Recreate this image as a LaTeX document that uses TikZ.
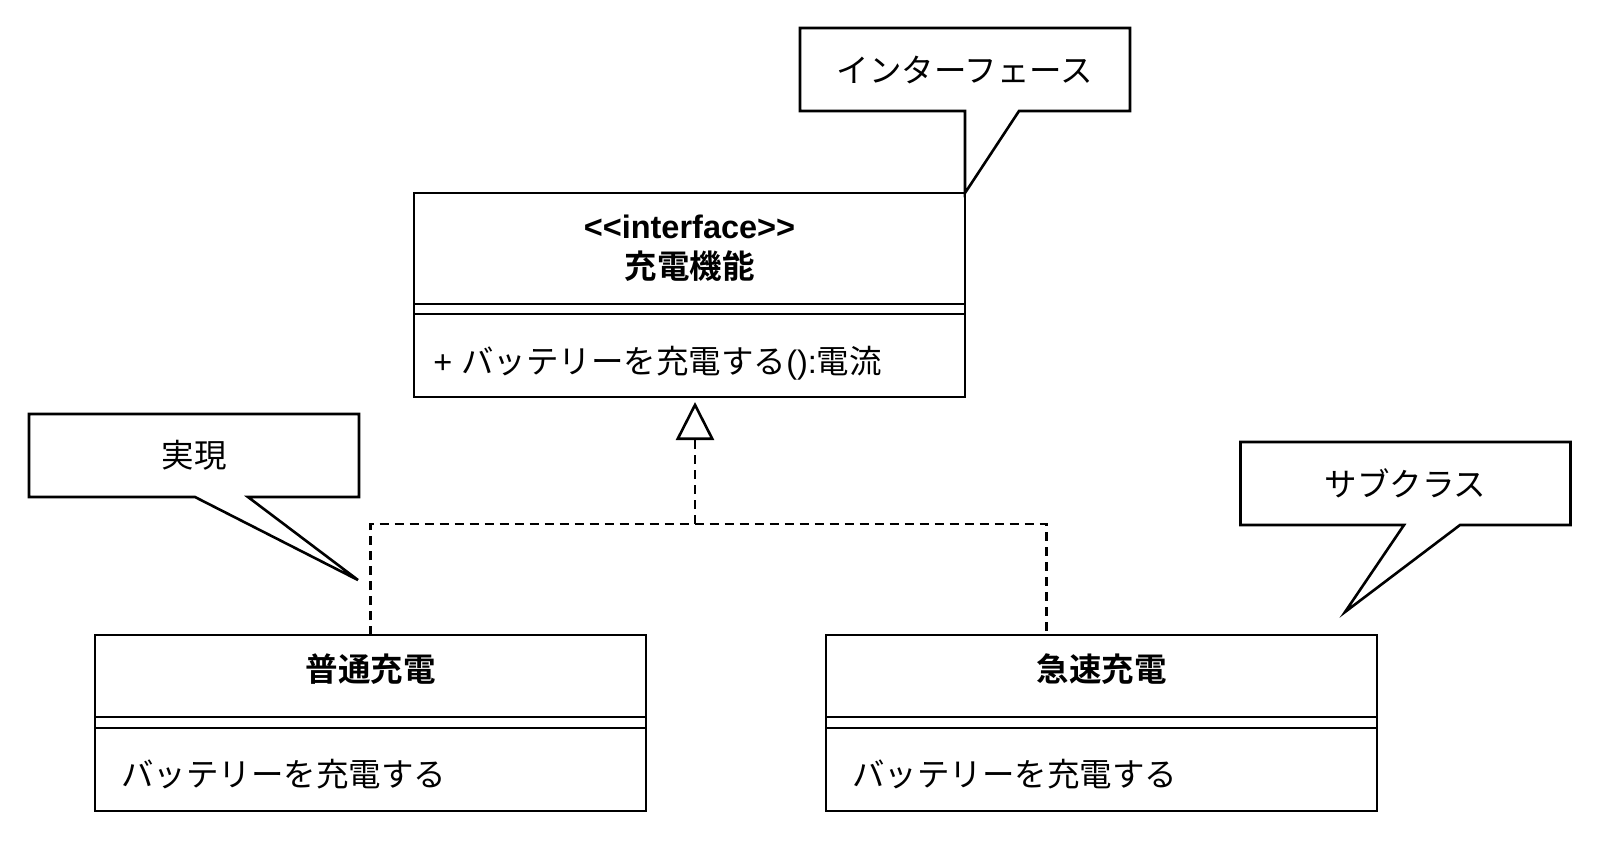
\documentclass[tikz,border=0pt]{standalone}
\usepackage{fontspec}
\setmainfont{Liberation Sans}
\newfontfamily\jp[BoldFont={Noto Sans CJK JP Bold}]{Noto Sans CJK JP}
\usetikzlibrary{positioning,arrows.meta}

\begin{document}
\fontsize{16.25}{20}\selectfont
\begin{tikzpicture}[x=0.5pt, y=-0.5pt, line width=1.3pt,
  compart/.style={draw, inner sep=0pt, outer sep=0pt, minimum width=275.5pt},
  txt/.style={inner sep=0pt, font=\jp},
  notebox/.style={inner sep=0pt, outer sep=0pt, minimum width=165pt, minimum height=41.5pt, font=\jp},
  realize/.style={dash pattern=on 4.5pt off 3pt}]
\useasboundingbox (0,0) rectangle (1600,848);

% interface
\node[compart, minimum height=55.5pt, align=center, font=\bfseries] (ifacehead) at (689.5,248.5) {<{}<interface>{}>\\{\jp 充電機能}};
\node[compart, minimum height=5pt, below=0pt of ifacehead] (ifaceattr) {};
\node[compart, minimum height=41.5pt, below=0pt of ifaceattr] (ifaceops) {};
\node[anchor=west, inner sep=0pt] (ifaceop) at (432,363) {+ {\jp バッテリーを充電する}():{\jp 電流}};

% classes
\node[compart, minimum height=41pt] (normhead) at (370.5,676) {};
\node[compart, minimum height=5.5pt, below=0pt of normhead] (normattr) {};
\node[compart, minimum height=41.5pt, below=0pt of normattr] (normops) {};
\node[txt, font=\jp\bfseries] (normname) at (370.5,669) {普通充電};
\node[txt, anchor=west] (normop) at (120,774) {バッテリーを充電する};

\node[compart, minimum height=41pt] (quickhead) at (1101.5,676) {};
\node[compart, minimum height=5.5pt, below=0pt of quickhead] (quickattr) {};
\node[compart, minimum height=41.5pt, below=0pt of quickattr] (quickops) {};
\node[txt, font=\jp\bfseries] (quickname) at (1101.5,669) {急速充電};
\node[txt, anchor=west] (quickop) at (851,774) {バッテリーを充電する};

% realization
\coordinate (split) at (695,524);
\draw[realize] (normhead.north) |- (split) -| ([xshift=-27.5pt]quickhead.north);
\draw[realize, -{Triangle[open, length=19pt, width=19pt]}] (split) -- ([xshift=2.75pt, yshift=-2.5pt]ifaceops.south);

% notes
\node[notebox] (noteif) at (965,69.5) {インターフェース};
\draw (noteif.north west) -- (noteif.north east) -- (noteif.south east) -- ([xshift=109.5pt]noteif.south west)
  -- (ifacehead.north east) -- ([xshift=82.5pt]noteif.south west) -- (noteif.south west) -- cycle;

\node[notebox] (notereal) at (194,455.5) {実現};
\coordinate (realtip) at (358,580);
\draw (notereal.north west) -- (notereal.north east) -- (notereal.south east) -- ([xshift=109.5pt]notereal.south west)
  -- (realtip) -- ([xshift=83pt]notereal.south west) -- (notereal.south west) -- cycle;

\node[notebox] (notesub) at (1405.5,483.5) {サブクラス};
\coordinate (subtip) at (1345,612);
\draw (notesub.north west) -- (notesub.north east) -- (notesub.south east) -- ([xshift=109.75pt]notesub.south west)
  -- (subtip) -- ([xshift=81.75pt]notesub.south west) -- (notesub.south west) -- cycle;
\end{tikzpicture}
\end{document}
